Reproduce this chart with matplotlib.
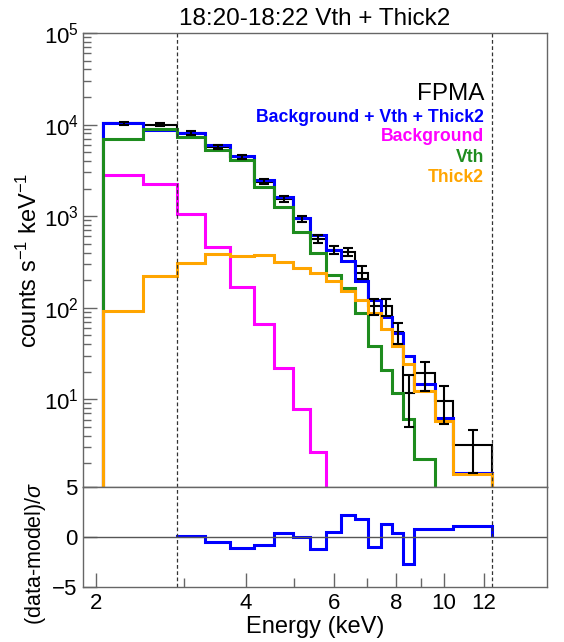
import numpy as np
import matplotlib
matplotlib.use('Agg')
import matplotlib.pyplot as plt
from matplotlib.ticker import FixedLocator, NullFormatter, LogLocator, NullLocator

plt.rcParams['font.family'] = ['Liberation Sans', 'DejaVu Sans']
plt.rcParams['mathtext.fontset'] = 'custom'
plt.rcParams['mathtext.rm'] = 'Liberation Sans'
plt.rcParams['mathtext.it'] = 'Liberation Sans:italic'

# energy bin edges (keV)
edges = [2.06, 2.48, 2.90, 3.31, 3.72, 4.14, 4.55, 4.97, 5.38, 5.80, 6.21,
         6.62, 7.04, 7.45, 7.86, 8.28, 8.70, 9.57, 10.40, 12.48]

# observed spectrum (counts s^-1 keV^-1) and errors
data = [1.03e4, 1.0e4, 8.15e3, 5.73e3, 4.45e3, 2.38e3, 1.55e3, 935, 560, 430,
        401, 240, 104, 105, 54.2, 11.8, 19.3, 9.5, 3.17]
data_err_lo = [450, 450, 380, 300, 240, 150, 110, 75, 55, 42,
               38, 34, 20, 24, 14.4, 6.8, 7.0, 4.2, 1.6]
data_err_hi = [450, 450, 380, 300, 240, 150, 110, 75, 55, 38,
               47, 42, 21, 20, 14.2, 6.4, 6.1, 4.5, 1.4]

# model components
total = [1.03e4, 8.8e3, 8.15e3, 5.98e3, 4.5e3, 2.45e3, 1.60e3, 951, 620, 429,
         320, 194, 122, 79.4, 53.1, 29.8, 14.5, 6.31, 1.58]
background = [2820, 2250, 1050, 455, 167, 67, 22.1, 7.76, 2.66, 0.5,
              0.2, 0.08, 0.03, 0.01, 0.004, 0.002, 0.001, 0.0004, 0.0001]
vth = [6.95e3, 9.0e3, 7.26e3, 5.27e3, 4.10e3, 2.08e3, 1.26e3, 675, 396, 227,
       164, 87.7, 38.6, 20.8, 11.6, 6.04, 2.21, 0.3, 0.02]
thick2 = [93, 220, 308, 388, 363, 372, 315, 271, 237, 195,
          151, 121, 88, 58.8, 38, 24, 12.3, 5.8, 1.52]

# residuals (fit range only, from 2.9 keV)
resid = [0.1, -0.5, -1.06, -0.83, 0.43, 0.04, -1.23, 0.5, 2.2, 1.83,
         -0.96, 1.27, 0.43, -2.73, 0.84, 0.84, 1.1]

fit_range = [2.90, 12.48]

blue = '#0000FF'
pink = '#FF00FF'
green = '#1E8C1E'
orange = '#FFA500'
grey = '#666666'

edges = np.array(edges)
centers = 0.5 * (edges[:-1] + edges[1:])

fig = plt.figure(figsize=(5.64, 6.42), dpi=100)
ax = fig.add_axes([0.147, 0.2414, 0.823, 0.7072])
axr = fig.add_axes([0.147, 0.0857, 0.823, 0.1557], sharex=ax)

base = 1e-3
lw = 2.2
ax.stairs(data, edges, baseline=base, color='black', lw=1.5)
ax.stairs(total, edges, baseline=base, color=blue, lw=lw)
ax.stairs(background, edges, baseline=base, color=pink, lw=lw)
ax.stairs(vth, edges, baseline=base, color=green, lw=lw)
ax.stairs(thick2, edges, baseline=base, color=orange, lw=lw)
ax.errorbar(centers, data, yerr=[data_err_lo, data_err_hi], fmt='none',
            ecolor='black', elinewidth=1.5, capsize=3.5, capthick=1.5)

ax.set_xscale('log')
ax.set_yscale('log')
ax.set_xlim(1.88, 16.1)
ax.set_ylim(1.1, 1e5)

for a in (ax, axr):
    for x in fit_range:
        a.axvline(x, color='#333333', lw=0.9, ls=(0, (3, 2)))
    for s in a.spines.values():
        s.set_color(grey)
        s.set_linewidth(1.0)

ax.yaxis.set_major_locator(LogLocator(base=10, numticks=10))
ax.yaxis.set_minor_locator(LogLocator(base=10, subs=np.arange(2, 10), numticks=10))
ax.yaxis.set_minor_formatter(NullFormatter())
ax.tick_params(axis='y', which='both', direction='in', colors=grey,
               labelcolor='black', labelsize=16, pad=3)
ax.tick_params(axis='y', which='major', length=10, width=1)
ax.tick_params(axis='y', which='minor', length=6, width=1)
ax.tick_params(axis='x', which='both', bottom=False, labelbottom=False)
ax.set_ylabel('counts s$^{-1}$ keV$^{-1}$', fontsize=17)
ax.yaxis.set_label_coords(-0.089, 0.5)
ax.set_title('18:20-18:22 Vth + Thick2', fontsize=17.5, pad=6)

ax.text(0.864, 0.852, 'FPMA', transform=ax.transAxes, ha='right',
        va='baseline', fontsize=17.5)
labels = ['Background + Vth + Thick2', 'Background', 'Vth', 'Thick2']
colors = [blue, pink, green, orange]
ypos = [0.805, 0.762, 0.7165, 0.6725]
for lab, c, y in zip(labels, colors, ypos):
    ax.text(0.864, y, lab, transform=ax.transAxes, ha='right', va='baseline',
            fontsize=12.7, fontweight='bold', color=c)

# residual panel
axr.axhline(0, color='#555555', lw=1.0)
axr.stairs(resid, edges[2:], baseline=0, color=blue, lw=lw)
axr.set_ylim(-5, 5)
axr.set_yticks([-5, 0, 5])
axr.yaxis.set_minor_locator(NullLocator())
axr.xaxis.set_major_locator(FixedLocator([2, 4, 6, 8, 10, 12]))
axr.xaxis.set_minor_locator(FixedLocator([3, 5, 7, 9]))
axr.xaxis.set_minor_formatter(NullFormatter())
axr.set_xticklabels(['2', '4', '6', '8', '10', '12'])
axr.tick_params(which='both', direction='in', colors=grey,
                labelcolor='black', labelsize=16, pad=4)
axr.tick_params(which='major', length=10, width=1)
axr.tick_params(which='minor', length=6.5, width=1)
axr.set_xlabel('Energy (keV)', fontsize=17, labelpad=2)
axr.set_ylabel('(data-model)/$\\sigma$', fontsize=15.5)
axr.yaxis.set_label_coords(-0.076, 0.34)

fig.savefig('out.png', dpi=100)
